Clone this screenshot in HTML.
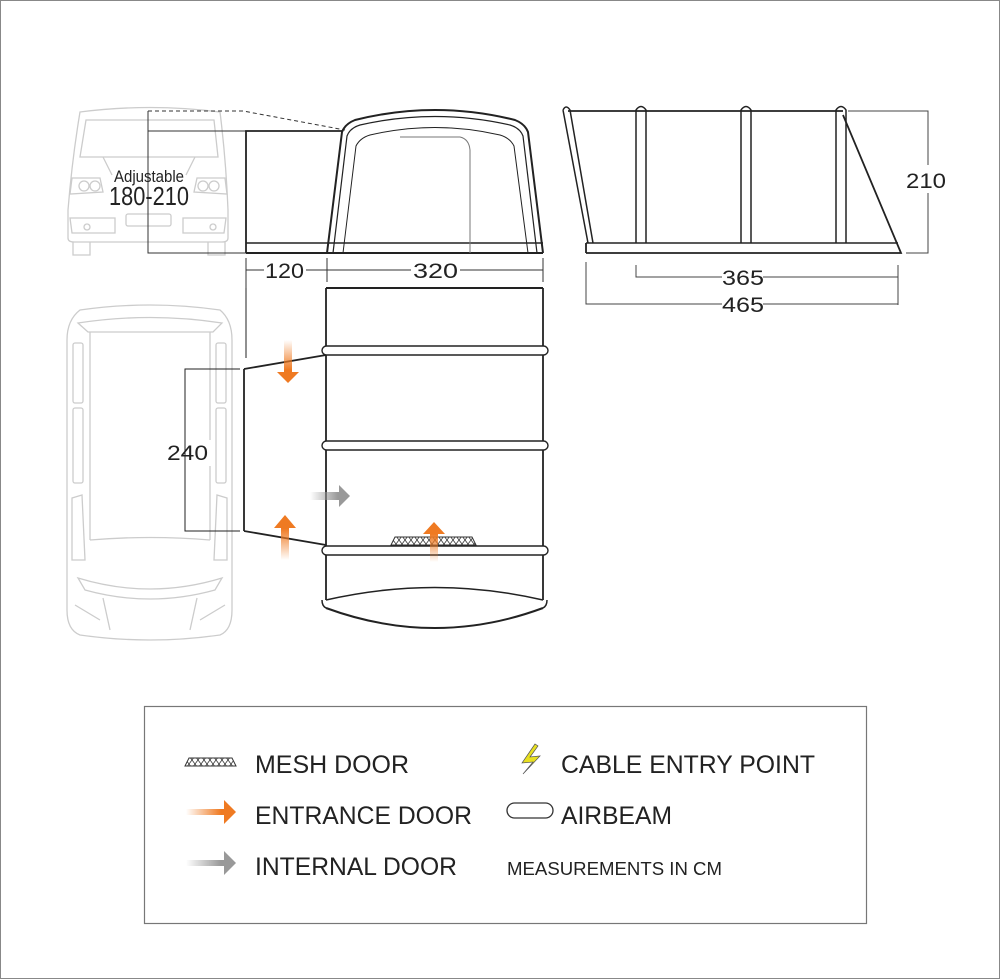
<!DOCTYPE html>
<html><head><meta charset="utf-8"><style>
html,body{margin:0;padding:0;background:#fff}
svg{display:block}
text{font-family:"Liberation Sans",sans-serif;fill:#222}
</style></head><body>
<svg width="1000" height="979" viewBox="0 0 1000 979" xmlns="http://www.w3.org/2000/svg">
<defs>
<linearGradient id="og" x1="0" y1="0" x2="1" y2="0"><stop offset="0" stop-color="#ef7a22" stop-opacity="0"/><stop offset="0.7" stop-color="#ef7a22"/></linearGradient>
<linearGradient id="gg" x1="0" y1="0" x2="1" y2="0"><stop offset="0" stop-color="#999" stop-opacity="0"/><stop offset="0.7" stop-color="#999"/></linearGradient>
<linearGradient id="ogd" x1="0" y1="0" x2="0" y2="1"><stop offset="0" stop-color="#ef7a22" stop-opacity="0"/><stop offset="0.7" stop-color="#ef7a22"/></linearGradient>
<linearGradient id="ogu" x1="0" y1="1" x2="0" y2="0"><stop offset="0" stop-color="#ef7a22" stop-opacity="0"/><stop offset="0.7" stop-color="#ef7a22"/></linearGradient>
<pattern id="mesh" width="6" height="8" patternUnits="userSpaceOnUse"><path d="M0 0L6 8M6 0L0 8" stroke="#333" stroke-width="0.8"/></pattern>
</defs>
<rect x="0.5" y="0.5" width="999" height="978" fill="#fff" stroke="#888"/>

<!-- car front -->
<g fill="none" stroke="#ccc" stroke-width="1.3">
<path d="M80 112 Q150 103 220 112 Q226 160 228 210 L228 238 Q228 242 222 242 L74 242 Q68 242 68 238 L68 210 Q72 160 80 112Z"/>
<path d="M86 120 L214 120 L218 157 L80 157Z"/>
<path d="M72 178 L100 178 L103 192 L70 194Z M225 178 L197 178 L194 192 L227 194Z"/>
<circle cx="84" cy="186" r="5"/><circle cx="95" cy="186" r="5"/><circle cx="203" cy="186" r="5"/><circle cx="214" cy="186" r="5"/>
<path d="M103 157 L112 175 M195 157 L186 175"/>
<path d="M70 218 L115 218 L115 233 L72 233Z M226 218 L183 218 L183 233 L224 233Z"/>
<rect x="126" y="214" width="45" height="12" rx="2"/>
<circle cx="87" cy="227" r="3"/><circle cx="213" cy="227" r="3"/>
<path d="M73 242 L73 255 L90 255 L90 242 M208 242 L208 255 L225 255 L225 242"/>
</g>
<!-- dashed/dim lines front -->
<g fill="none" stroke="#333" stroke-width="1">
<path d="M148 111 L243 111 L345 130" stroke-dasharray="4,3"/>
<path d="M148 111 L148 253 L246 253 M148 131 L246 131"/>
<path d="M246 258 L246 358 M327 258 L327 282 M543 258 L543 282"/>
<path d="M246 270 L264 270 M306 270 L327 270 M327 270 L411 270 M460 270 L543 270"/>
</g>
<text x="265" y="278" font-size="21" textLength="39" lengthAdjust="spacingAndGlyphs">120</text>
<text x="413" y="278" font-size="21" textLength="45" lengthAdjust="spacingAndGlyphs">320</text>
<text x="114" y="182" font-size="17" textLength="70" lengthAdjust="spacingAndGlyphs">Adjustable</text>
<text x="109" y="205" font-size="26" textLength="80" lengthAdjust="spacingAndGlyphs">180-210</text>

<!-- front tent -->
<g fill="none" stroke="#222">
<path d="M246 253 L246 131 L342 131" stroke-width="1.8"/>
<path d="M246 243 L543 243" stroke-width="1.6"/>
<path d="M246 253 L543 253" stroke-width="2"/>
<path d="M327 253 L342 132 Q345 124 355 120 Q435 100 515 120 Q525 124 528 132 L543 253" stroke-width="2"/>
<path d="M333 253 L347 136 Q350 128 360 125 Q435 108 510 125 Q520 128 523 136 L537 253" stroke-width="1.2"/>
<path d="M343 253 L356 146 Q360 138 370 135 Q435 120 500 135 Q510 138 514 146 L528 253" stroke-width="1"/>
<path d="M400 137 L460 137 Q469 139 470 150 L470 253" stroke="#777" stroke-width="1"/>
</g>

<!-- car top -->
<g fill="none" stroke="#ccc" stroke-width="1.3">
<path d="M80 310 Q150 300 220 310 Q232 320 232 340 L232 610 Q232 630 220 635 Q150 645 80 635 Q67 630 67 610 L67 340 Q67 320 80 310Z"/>
<path d="M78 323 Q150 312 222 323 L213 332 L88 332Z"/>
<path d="M90 332 L90 540 M210 332 L210 540 M90 540 Q150 535 210 540"/>
<rect x="73" y="343" width="10" height="60" rx="2"/><rect x="216" y="343" width="10" height="60" rx="2"/>
<rect x="73" y="408" width="10" height="75" rx="2"/><rect x="216" y="408" width="10" height="75" rx="2"/>
<path d="M72 498 L82 495 L85 560 L72 560Z M227 498 L217 495 L214 560 L227 560Z"/>
<path d="M78 578 Q150 600 222 578 L215 590 Q150 608 85 590Z"/>
<path d="M103 598 L110 630 M197 598 L190 630 M75 605 L100 620 M225 605 L200 620"/>
</g>

<!-- plan view tent -->
<g fill="none" stroke="#222">
<path d="M326 288 L543 288" stroke-width="2"/>
<path d="M326 288 L326 600 M543 288 L543 600" stroke-width="1.8"/>
<path d="M326 600 Q435 575 543 600" stroke-width="1.5"/>
<path d="M326 608 Q435 648 543 608" stroke-width="2"/>
<path d="M322 600 Q322 606 326 608 M547 600 Q547 606 543 608" stroke-width="1.5"/>
<path d="M244 369 L326 355 M244 531 L326 545 M244 369 L244 531" stroke-width="1.8"/>
<path d="M240 369 L185 369 L185 531 L240 531" stroke-width="1"/>
<path d="M246 288 L246 358" stroke-width="1"/>
</g>
<rect x="187" y="440" width="24" height="26" fill="#fff"/>
<text x="167" y="460" font-size="21" textLength="41" lengthAdjust="spacingAndGlyphs">240</text>
<g fill="#fff" stroke="#222" stroke-width="1.4">
<rect x="322" y="346" width="226" height="9" rx="4.5"/>
<rect x="322" y="441" width="226" height="9" rx="4.5"/>
<rect x="322" y="546" width="226" height="9" rx="4.5"/>
</g>
<path d="M391 545 L395 537 L472 537 L476 545Z" fill="url(#mesh)" stroke="#333" stroke-width="1"/>
<path d="M284 340 L292 340 L292 372 L299 372 L288 383 L277 372 L284 372Z" fill="url(#ogd)"/>
<path d="M281 560 L289 560 L289 528 L296 528 L285 515 L274 528 L281 528Z" fill="url(#ogu)"/>
<path d="M430 562 L438 562 L438 534 L445 534 L434 522 L423 534 L430 534Z" fill="url(#ogu)"/>
<path d="M310 492 L339 492 L339 485 L350 496 L339 507 L339 500 L310 500Z" fill="url(#gg)"/>

<!-- side view -->
<g fill="none" stroke="#222">
<path d="M568 111 L843 111" stroke-width="1.8"/>
<path d="M586 243 L898 243" stroke-width="1.5"/>
<path d="M586 253 L901 253 L843 115 M586 243 L586 253" stroke-width="1.8"/>
<path d="M563 110 Q566 104 570 110 L593 243 M563 110 L588 243" stroke-width="1.5"/>
<path d="M636 243 L636 110 Q641 103 646 110 L646 243" stroke-width="1.5"/>
<path d="M741 243 L741 110 Q746 103 751 110 L751 243" stroke-width="1.5"/>
<path d="M836 243 L836 110 Q841 103 846 110 L846 243" stroke-width="1.5"/>
</g>
<g fill="none" stroke="#444" stroke-width="1">
<path d="M848 111 L928 111 L928 253 L906 253"/>
<path d="M636 265 L636 277 L722 277 M763 277 L898 277 M898 265 L898 305 M586 262 L586 304 L722 304 M763 304 L898 304"/>
</g>
<rect x="905" y="165" width="45" height="28" fill="#fff"/>
<text x="906" y="188" font-size="21" textLength="40" lengthAdjust="spacingAndGlyphs">210</text>
<text x="722" y="285" font-size="21" textLength="42" lengthAdjust="spacingAndGlyphs">365</text>
<text x="722" y="312" font-size="21" textLength="42" lengthAdjust="spacingAndGlyphs">465</text>

<!-- legend -->
<rect x="144.5" y="706.5" width="722" height="217" fill="none" stroke="#777" stroke-width="1.2"/>
<path d="M185 766 L189 758 L232 758 L236 766Z" fill="url(#mesh)" stroke="#333" stroke-width="1"/>
<path d="M186 809 L224 809 L224 800 L236 812 L224 824 L224 815 L186 815Z" fill="url(#og)"/>
<path d="M186 860 L224 860 L224 851 L236 863 L224 875 L224 866 L186 866Z" fill="url(#gg)"/>
<path d="M535 744 L522 763 L533 762 L523 774 L540 756 L530 757 L538 746Z" fill="#e8e020" stroke="#555" stroke-width="0.7"/>
<rect x="507" y="803" width="46" height="15" rx="7.5" fill="none" stroke="#333" stroke-width="1.3"/>
<text x="255" y="773" font-size="25" textLength="154" lengthAdjust="spacingAndGlyphs">MESH DOOR</text>
<text x="255" y="824" font-size="25" textLength="217" lengthAdjust="spacingAndGlyphs">ENTRANCE DOOR</text>
<text x="255" y="875" font-size="25" textLength="202" lengthAdjust="spacingAndGlyphs">INTERNAL DOOR</text>
<text x="561" y="773" font-size="25" textLength="254" lengthAdjust="spacingAndGlyphs">CABLE ENTRY POINT</text>
<text x="561" y="824" font-size="25" textLength="111" lengthAdjust="spacingAndGlyphs">AIRBEAM</text>
<text x="507" y="875" font-size="18" textLength="215" lengthAdjust="spacingAndGlyphs">MEASUREMENTS IN CM</text>
</svg>
</body></html>
